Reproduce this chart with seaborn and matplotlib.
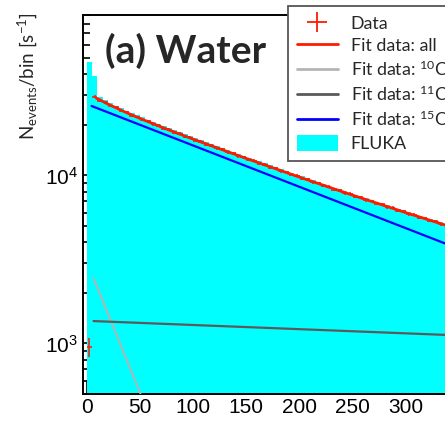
import numpy as np
import pandas as pd
import matplotlib
matplotlib.use("Agg")
import matplotlib.pyplot as plt
from matplotlib.lines import Line2D
from matplotlib.patches import Patch
from matplotlib.ticker import LogLocator, NullFormatter, MultipleLocator
import seaborn as sns

# ---- data -------------------------------------------------------------
bin_width = 5.0
bin_centers = np.arange(2.5, 345.0, 5.0)          # 69 bins, 0..345 s

fluka_rate = [
    47200, 38800, 29400, 27900, 26900, 26000, 25100, 24300, 23500, 22800,
    22150, 21450, 20850, 20250, 19650, 19150, 18600, 18050, 17600, 17100,
    16650, 16200, 15750, 15300, 14950, 14550, 14150, 13800, 13400, 13100,
    12750, 12400, 12100, 11800, 11450, 11200, 10900, 10650, 10350, 10100,
    9850, 9600, 9350, 9150, 8900, 8700, 8450, 8280, 8050, 7880,
    7680, 7480, 7320, 7130, 6970, 6800, 6630, 6490, 6320, 6180,
    6040, 5900, 5760, 5630, 5500, 5380, 5260, 5140, 5030,
]

data_time = bin_centers
data_rate = [
    950, 29400, 27800, 27250, 25900, 25350, 24150, 23700, 22650, 22300,
    21350, 21000, 20150, 19800, 18950, 18700, 17950, 17700, 17000, 16780,
    16100, 15880, 15250, 15050, 14450, 14300, 13700, 13550, 13000, 12880,
    12350, 12220, 11720, 11600, 11120, 11030, 10580, 10480, 10050, 9960,
    9550, 9470, 9090, 9010, 8640, 8580, 8220, 8160, 7830, 7770,
    7450, 7400, 7100, 7050, 6760, 6720, 6450, 6410, 6150, 6110,
    5870, 5830, 5600, 5570, 5350, 5320, 5110, 5080, 4880,
]
data_err = [
    120, 520, 500, 490, 470, 460, 440, 430, 410, 400,
    390, 380, 370, 360, 345, 340, 325, 320, 310, 305,
    295, 290, 280, 275, 265, 260, 250, 248, 238, 235,
    225, 223, 214, 212, 203, 201, 193, 191, 183, 182,
    174, 173, 166, 164, 158, 157, 150, 149, 143, 142,
    136, 135, 130, 129, 124, 123, 118, 117, 112, 112,
    107, 107, 102, 102, 98, 97, 93, 93, 89,
]

# fitted curves (sampled)
fit_all_t = [9, 20, 35, 50, 75, 100, 150, 200, 250, 300, 350, 400]
fit_all_v = [28800, 26540, 23974, 21821, 18856, 16422, 12603, 9758, 7616, 5997, 4766, 3833]
fit_c10_t = [6.4, 60]
fit_c10_v = [2440, 356]
fit_c11_t = [6.4, 400]
fit_c11_v = [1358, 1084]
fit_o15_t = [4.5, 400]
fit_o15_v = [25872, 2749]

legend_labels = ["Data", "Fit data: all", r"Fit data: $^{10}$C",
                 r"Fit data: $^{11}$C", r"Fit data: $^{15}$O", "FLUKA"]

# ---- style ------------------------------------------------------------
sns.set_style("ticks")
plt.rcParams["font.family"] = ["Liberation Sans", "DejaVu Sans"]
plt.rcParams["mathtext.default"] = "regular"

RED = "#ff1a00"
BLUE = "#0000ff"
LGRAY = "#b4b4b4"
DGRAY = "#5a5a5a"
CYAN = "#00ffff"

W, H = 445, 422
fig = plt.figure(figsize=(W / 100, H / 100), dpi=100)
x_lo, x_hi = -4, 346
px_per_s = 1.064
ax_left, ax_bot, ax_top = 82.5, 28, 407
ax = fig.add_axes([ax_left / W, ax_bot / H,
                   (x_hi - x_lo) * px_per_s / W, (ax_top - ax_bot) / H])
ax.set_yscale("log")

df = pd.DataFrame({"t": bin_centers, "rate": fluka_rate})
sns.histplot(data=df, x="t", weights="rate", binwidth=bin_width,
             binrange=(0, 345), element="step",
             fill=True, color=CYAN, alpha=1.0, linewidth=0, ax=ax, zorder=1)

ax.errorbar(data_time, data_rate, xerr=bin_width / 2, yerr=data_err,
            fmt="none", ecolor=RED, elinewidth=1.1, zorder=3)

sns.lineplot(x=fit_c10_t, y=fit_c10_v, color=LGRAY, lw=1.4, ax=ax, zorder=4)
sns.lineplot(x=fit_c11_t, y=fit_c11_v, color=DGRAY, lw=1.6, ax=ax, zorder=4)
sns.lineplot(x=fit_o15_t, y=fit_o15_v, color=BLUE, lw=1.6, ax=ax, zorder=4)
sns.lineplot(x=fit_all_t, y=fit_all_v, color=RED, lw=2.0, ax=ax, zorder=5,
             sort=False)

ax.set_xlim(x_lo, x_hi)
ax.set_ylim(500, 90000)
ax.set_xlabel("")
ax.set_ylabel("")

ax.xaxis.set_major_locator(MultipleLocator(50))
ax.xaxis.set_minor_locator(MultipleLocator(10))
ax.yaxis.set_major_locator(LogLocator(base=10))
ax.yaxis.set_minor_locator(LogLocator(base=10, subs=np.arange(2, 10)))
ax.yaxis.set_minor_formatter(NullFormatter())

ax.tick_params(which="both", direction="in", top=False, right=False,
               labelsize=15, width=1.2, colors="black")
ax.tick_params(which="major", length=10, pad=3)
ax.tick_params(which="minor", length=5)
for s in ax.spines.values():
    s.set_linewidth(1.4)
    s.set_color("black")

# title and axis label
fig.text(105 / W, 1 - 51 / H, "(a) Water", fontsize=28, fontweight="bold",
         family="Lato", ha="left", va="center")
fig.text(27 / W, 1 - 12 / H,
         r"N$_{events}$/bin [s$^{-1}$]", rotation=90, fontsize=13.5,
         family="Lato", ha="center", va="top")

# legend
handles = [
    Line2D([], [], color=RED, marker="+", linestyle="none", markersize=15,
           markeredgewidth=1.3),
    Line2D([], [], color=RED, lw=2.0),
    Line2D([], [], color=LGRAY, lw=2.0),
    Line2D([], [], color=DGRAY, lw=2.0),
    Line2D([], [], color=BLUE, lw=2.0),
    Patch(facecolor=CYAN, edgecolor="none"),
]
leg = fig.legend(handles, legend_labels, loc="upper left",
                 bbox_to_anchor=(288 / W, 1 - 6 / H),
                 bbox_transform=fig.transFigure, borderaxespad=0,
                 prop={"family": "Lato", "size": 12.8},
                 frameon=True, fancybox=False, framealpha=1,
                 edgecolor="#555555", borderpad=0.5, handlelength=2.3,
                 handleheight=1.0, handletextpad=0.73, labelspacing=0.31)
leg.get_frame().set_linewidth(1.3)

fig.savefig("out.png", dpi=100)
